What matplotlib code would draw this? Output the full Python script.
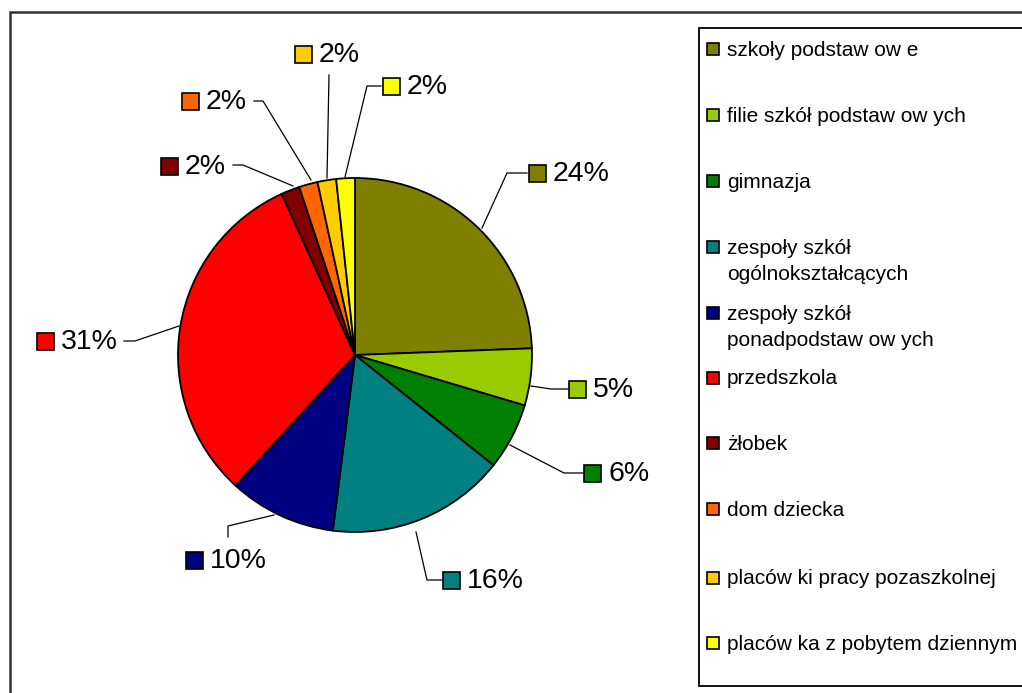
import matplotlib
matplotlib.use("Agg")
import matplotlib.pyplot as plt
from matplotlib.patches import Rectangle

plt.rcParams['font.family'] = ['Liberation Sans', 'DejaVu Sans']

# udzialy placowek (%)
categories = ['szkoły podstaw ow e', 'filie szkół podstaw ow ych', 'gimnazja',
              'zespoły szkół\nogólnokształcących', 'zespoły szkół\nponadpodstaw ow ych',
              'przedszkola', 'żłobek', 'dom dziecka',
              'placów ki pracy pozaszkolnej', 'placów ka z pobytem dziennym']
shares = [24.4, 5.2, 6.1, 16.3, 9.8, 31.4, 1.7, 1.7, 1.7, 1.7]
colors = ['#808000', '#99CC00', '#008000', '#008080', '#000080',
          '#FF0000', '#800000', '#FF6600', '#FFCC00', '#FFFF00']

# polozenie etykiet (piksele obrazu): kwadrat, lamana linia odnosnika
label_box = [(537, 173), (577, 389), (592, 473), (451, 580), (194, 560),
             (45, 341), (169, 166), (190, 101), (303, 54), (391, 86)]
leaders = [[(527, 173), (507, 173), (482, 228)],
           [(568, 389), (551, 389), (531, 386)],
           [(584, 473), (564, 473), (510, 445)],
           [(442, 580), (427, 580), (416, 532)],
           [(228, 537), (228, 526), (274, 515)],
           [(124, 341), (135, 341), (179, 326)],
           [(233, 165), (243, 165), (293, 186)],
           [(254, 101), (263, 101), (311, 180)],
           [(329, 75), (329, 75), (327, 178)],
           [(381, 86), (367, 86), (345, 177)]]

W, H = 1022, 693
fig = plt.figure(figsize=(W / 100, H / 100), dpi=100)
ax = fig.add_axes([0, 0, 1, 1])

ax.pie(shares, colors=colors, center=(355, 355), radius=177,
       startangle=-90, counterclock=True,
       wedgeprops=dict(edgecolor='black', linewidth=1.3))
ax.set_xlim(0, W)
ax.set_ylim(H, 0)
ax.set_aspect('equal')
ax.axis('off')

# ramka calego wykresu
ax.plot([9.5, 9.5, W + 5], [H + 5, 12, 12], color='#333333', lw=1.8,
        clip_on=False, solid_joinstyle='miter')

# etykiety danych
for v, c, (bx, by), pts in zip(shares, colors, label_box, leaders):
    xs = [p[0] for p in pts]
    ys = [p[1] for p in pts]
    ax.plot(xs, ys, color='black', lw=0.9)
    ax.add_patch(Rectangle((bx - 8.5, by - 8.5), 17, 17, facecolor=c,
                           edgecolor='black', lw=1.2))
    ax.text(bx + 16, by + 1, f'{round(v)}%', fontsize=20.5,
            va='center', ha='left')

# legenda
ax.add_patch(Rectangle((698.5, 28), 400, 657.5, facecolor='white',
                       edgecolor='black', lw=1.3, clip_on=False))
legend_y = [49, 115, 181, 247, 313, 378, 443, 509, 578, 643]
for name, c, ly in zip(categories, colors, legend_y):
    ax.add_patch(Rectangle((706.5, ly - 6), 12, 12, facecolor=c,
                           edgecolor='black', lw=1.2))
    for i, line in enumerate(name.split('\n')):
        ax.text(727, ly + 1 + i * 26, line, fontsize=15,
                va='center', ha='left')

fig.savefig('out.png', dpi=100)
